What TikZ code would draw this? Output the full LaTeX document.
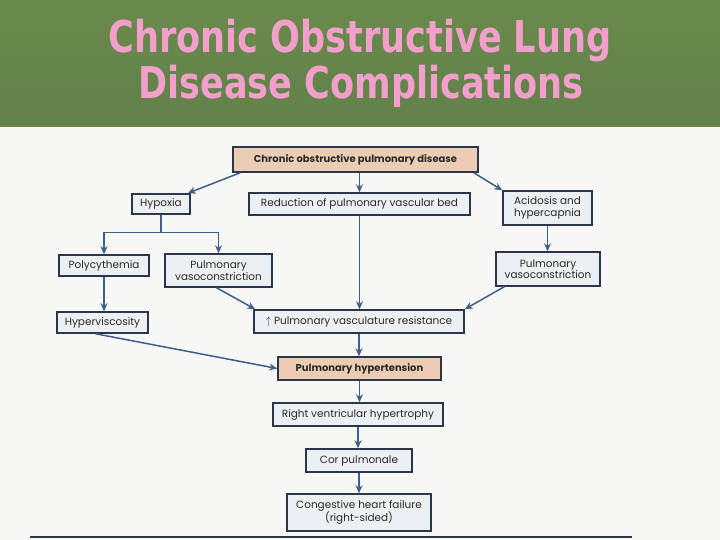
\documentclass[tikz,border=0pt]{standalone}
\usepackage{fontspec}
\usepackage{tikz}
\usetikzlibrary{calc}
\usetikzlibrary{positioning}
\usetikzlibrary{arrows.meta}

\newfontfamily\titlefont[FakeStretch=0.8]{DejaVu Sans}
\newfontfamily\chartfont{Poppins}

\definecolor{headtop}{HTML}{6A8A4C}
\definecolor{headbot}{HTML}{62804A}
\definecolor{pagebg}{HTML}{F7F7F5}
\definecolor{titlepink}{HTML}{F2A0CB}
\definecolor{boxline}{HTML}{2C364B}
\definecolor{boxfill}{HTML}{EDF0F3}
\definecolor{keyfill}{HTML}{EBCDB4}
\definecolor{boxtext}{HTML}{2A2A2A}
\definecolor{linkblue}{HTML}{3F5E8C}

\tikzset{
  titletext/.style={font=\titlefont\bfseries\fontsize{44}{44}\selectfont, text=titlepink, inner sep=0pt},
  boxsize/.style 2 args={minimum width=#1bp, minimum height=#2bp},
  box/.style={draw=boxline, line width=1.5bp, fill=boxfill, text=boxtext, align=center, inner sep=0pt,
    font=\chartfont\fontsize{10.5}{11.5}\selectfont},
  keybox/.style={box, fill=keyfill, font=\chartfont\bfseries\fontsize{10}{11}\selectfont},
  link/.style={draw=linkblue, line width=1.5bp, -{Stealth[length=8bp, width=7bp]}},
}

\begin{document}
\begin{tikzpicture}[x=1bp, y=-1bp]
    \useasboundingbox (0,0) rectangle (720,540);
    \fill[pagebg] (0,0) rectangle (720,540);
    \shade[top color=headtop, bottom color=headbot] (0,0) rectangle (720,127);

    % title
    \draw (360,41) node[titletext] (title1) {Chronic Obstructive Lung};
    \draw (361,86) node[titletext] (title2) {Disease Complications};

    % first row
    \draw (355.5,159.5) node[keybox, boxsize={245}{25}] (copd) {Chronic obstructive pulmonary disease};
    \draw (161,204) node[box, boxsize={58}{20}] (hyp) {Hypoxia};
    \draw (359.5,204) node[box, boxsize={221}{22}] (red) {Reduction of pulmonary vascular bed};
    \draw (547.5,208) node[box, boxsize={89}{34}] (acid) {Acidosis and\\hypercapnia};

    % second row
    \draw (104,265.5) node[box, boxsize={90}{21}] (poly) {Polycythemia};
    \draw (218.5,270.5) node[box, boxsize={107}{33}] (vcl) {Pulmonary\\vasoconstriction};
    \draw (548,269) node[box, boxsize={104}{34}] (vcr) {Pulmonary\\vasoconstriction};

    % third row
    \draw (102.5,322.5) node[box, boxsize={91}{21}] (hvis) {Hyperviscosity};
    \draw (359,321.5) node[box, boxsize={210}{23}] (pvr) {$\uparrow$ Pulmonary vasculature resistance};

    % main chain
    \draw ($(pvr) + (0.5,47)$) node[keybox, boxsize={163}{23}] (ph) {Pulmonary hypertension};
    \draw ($(ph) + (-1.5,46)$) node[box, boxsize={170}{23}] (rvh) {Right ventricular hypertrophy};
    \draw ($(rvh) + (1,46)$) node[box, boxsize={106}{23}] (cor) {Cor pulmonale};
    \draw ($(cor) + (0,52)$) node[box, boxsize={144}{37}] (chf) {Congestive heart failure\\(right-sided)};

    % connectors
    \draw[link] ($(copd.south west) + (8,0)$) -- ($(hyp.north east) + (-3,0)$);
    \draw[link] (red.north |- copd.south) -- (red.north);
    \draw[link] ($(copd.south east) + (-5,0)$) -- (acid.north west);

    \coordinate (hypfork) at ($(hyp.south) + (0,18)$);
    \draw[link] (hyp.south) -- (hypfork) -| (poly.north);
    \draw[link] (hypfork) -| (vcl.north);
    \draw[link] (poly.south) -- (poly.south |- hvis.north);

    \draw[link] ($(vcl.south) + (-2,0)$) -- ($(pvr.north west) + (2,0)$);
    \draw[link] (red.south) -- (red.south |- pvr.north);
    \draw[link] (acid.south) -- (acid.south |- vcr.north);
    \draw[link] ($(vcr.south west) + (9,0)$) -- (pvr.north east);

    \draw[link] ($(hvis.south) + (-7,0)$) -- (ph.west);
    \draw[link] (pvr.south) -- (pvr.south |- ph.north);
    \draw[link] (ph.south) -- (ph.south |- rvh.north);
    \draw[link] (rvh.south) -- (rvh.south |- cor.north);
    \draw[link] (cor.south) -- (cor.south |- chf.north);

    % page rule
    \draw[boxline, line width=1.6bp] (30,537) -- (632,537);
\end{tikzpicture}
\end{document}
